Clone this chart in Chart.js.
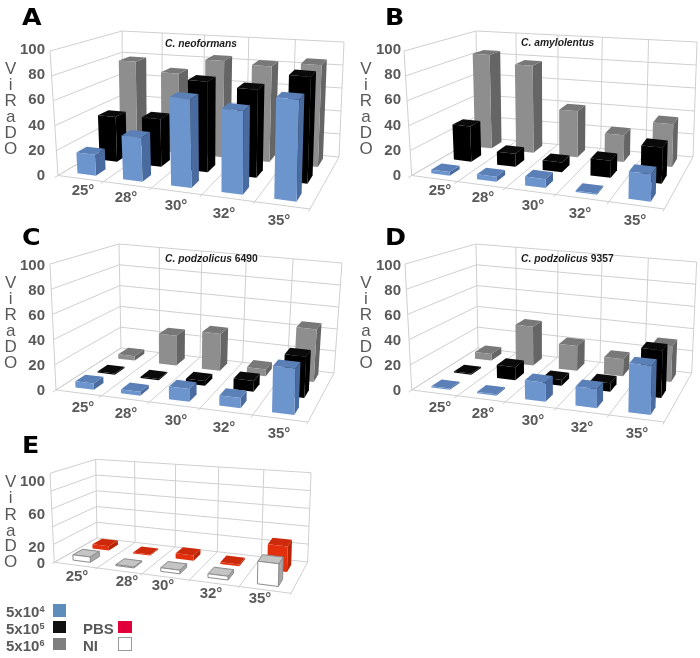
<!DOCTYPE html>
<html>
<head>
<meta charset="utf-8">
<script src="https://cdn.jsdelivr.net/npm/chart.js@4"></script>
<style>
html,body{margin:0;padding:0;background:#fff;}
#page{position:relative;width:700px;height:658px;overflow:hidden;font-family:"Liberation Sans",Arial,sans-serif;}
canvas{position:absolute;left:0;top:0;filter:blur(0.3px);}
.t{position:absolute;white-space:nowrap;line-height:1;}
.letter{font:bold 23px "DejaVu Sans",sans-serif;color:#000;transform:scaleX(1.1);transform-origin:left top;}
.title{font:bold italic 10.3px "Liberation Sans",sans-serif;color:#1c1c1c;}
.title b{font-style:normal;}
.lg{font:bold 15px "Liberation Sans",sans-serif;color:#595959;}
.lg sup{font-size:9px;line-height:0;vertical-align:5px;}
.sw{position:absolute;box-sizing:border-box;}
</style>
</head>
<body>
<div id="page"></div>
<script>
// ---- data (percent) ----
const categories = ['25°','28°','30°','32°','35°'];
const aBlue  = [17,35,70,65,78];
const aBlack = [38,40,75,72,86];
const aGrey  = [78,70,84,82,86];
const bBlue  = [3,4,7,1,21];
const bBlack = [30,11,8,14,29];
const bGrey  = [84,77,40,23,36];
const cBlue  = [5,3,10,8,36];
const cBlack = [1,1,4,9,34];
const cGrey  = [4,27,33,6,46];
const dBlue  = [1,1,15,15,38];
const dBlack = [1,11,5,7,39];
const dGrey  = [6,35,22,15,31];
const eNI    = [6,1,4,4,24];
const ePBS   = [5,1,6,2,28];
const yTicksFull = [0,20,40,60,80,100];
const yTicksE    = [0,20,60,100];
const gridValues = [0,20,40,60,80,100];

// ---- styles ----
const BLUE  = {front:'#6d95cd',top:'#5b80b8',side:'#4a6b9f'};
const BLACK = {front:'#000000',top:'#0a0a0a',side:'#000000'};
const GREY  = {front:'#8e8e8e',top:'#787878',side:'#656565'};
const RED   = {front:'#e2300e',top:'#cc2a0a',side:'#b82405'};
const NI    = {front:'#ffffff',top:'#c4c4c4',side:'#a8a8a8',edge:'#8c8c8c'};
const GRID  = '#cfcfcf';
const FONT  = '"Liberation Sans",Arial,sans-serif';
const INK   = '#595959';

// ---- panel frames: corners of the plot box on the page ----
const frames = {
  A:{fl0:[58,175.5],fr0:[310,209],bl0:[123,137],br0:[339,157],fl1:[50,51],fr1:[314,76],bl1:[122,31],br1:[344,42],
     zero:176,hundred:49.5,tickRight:45,
     labels:[[83,191],[126,197.5],[176,206],[224,213.5],[279,221]],
     letters:[10.7,[69,85,101,117,133,149]]},
  B:{fl0:[411.7,175.5],fr0:[664.3,209],bl0:[478,137],br0:[693,157],fl1:[404,51],fr1:[668,76],bl1:[476,31],br1:[697,42],
     zero:176,hundred:49.5,tickRight:401,
     labels:[[440,191],[483,197.5],[533,206],[580,213.5],[635,221]],
     letters:[366,[69,85,101,117,133,149]]},
  C:{fl0:[56,390],fr0:[308,422],bl0:[121,348],br0:[334,373],fl1:[50,264],fr1:[312,290],bl1:[119,244],br1:[342,263],
     zero:391,hundred:265.7,tickRight:45,
     labels:[[83,408],[126,413.5],[176,421],[224,427.5],[279,434]],
     letters:[10.7,[283,299.5,315.5,331.5,347,363]]},
  D:{fl0:[411.7,390],fr0:[664.3,422],bl0:[478,348],br0:[691.7,373],fl1:[405,264],fr1:[668,290],bl1:[476,244],br1:[696.7,262],
     zero:391,hundred:265.7,tickRight:401,
     labels:[[440,408],[483,413.5],[533,421],[582,427.5],[637,434]],
     letters:[366,[283,299.5,315.5,331.5,347,363]]},
  E:{fl0:[54.3,562.3],fr0:[291,593.3],bl0:[97,538],br0:[307.7,562],fl1:[50,473.3],fr1:[294,497],bl1:[95.7,459.3],br1:[311,472.7],
     zero:564,hundred:482,tickRight:45,
     labels:[[77,577],[127,582],[163,586],[211,593.5],[260,598.5]],
     letters:[10.7,[482,498.5,515,531,546,562]]}
};
const U_WARP = 0.12, BAR_U = 0.041;

function lerp(a,b,t){return [a[0]+(b[0]-a[0])*t,a[1]+(b[1]-a[1])*t];}
function project(f,u,v,w){
  const uu = u + U_WARP*u*(u-1);
  const b = lerp(lerp(f.fl0,f.fr0,uu),lerp(f.bl0,f.br0,uu),v);
  const t = lerp(lerp(f.fl1,f.fr1,uu),lerp(f.bl1,f.br1,uu),v);
  return lerp(b,t,w);
}
function poly(ctx,pts,fill,stroke){
  ctx.beginPath();
  pts.forEach((p,i)=> i?ctx.lineTo(p[0],p[1]):ctx.moveTo(p[0],p[1]));
  ctx.closePath();
  if(fill){ctx.fillStyle=fill;ctx.fill();}
  if(stroke){ctx.strokeStyle=stroke;ctx.lineWidth=1;ctx.stroke();}
}
function fracU(chart,i){const s=chart.scales.x;return (s.getPixelForValue(i)-s.left)/s.width;}
function fracW(chart,val){const s=chart.scales.y;return (s.bottom-s.getPixelForValue(val))/(s.bottom-s.top);}

// ---- bars with depth: a bar controller that reads the chart's own scales ----
class Box3DController extends Chart.BarController {
  draw(){
    const chart=this.chart, ctx=chart.ctx, ds=this.getDataset(), f=chart.options.plugins.frame.frame;
    const c=ds.faces, v0=ds.depth-ds.thick/2, v1=ds.depth+ds.thick/2;
    ctx.save();
    ds.data.forEach((val,i)=>{
      const u=fracU(chart,i), u0=u-BAR_U, u1=u+BAR_U, w=fracW(chart,val);
      const P=(a,b,h)=>project(f,a,b,h);
      poly(ctx,[P(u1,v0,0),P(u1,v1,0),P(u1,v1,w),P(u1,v0,w)],c.side,c.edge);
      poly(ctx,[P(u0,v0,w),P(u1,v0,w),P(u1,v1,w),P(u0,v1,w)],c.top,c.edge);
      poly(ctx,[P(u0,v0,0),P(u1,v0,0),P(u1,v0,w),P(u0,v0,w)],c.front,c.edge);
    });
    ctx.restore();
  }
}
Box3DController.id='box3d';
Box3DController.defaults=Chart.BarController.defaults;
Chart.register(Box3DController);

// ---- walls, floor, category labels, stacked axis title ----
const framePlugin={
  id:'frame',
  beforeDatasetsDraw(chart,args,opts){
    const ctx=chart.ctx,f=opts.frame;
    const line=(a,b)=>{ctx.beginPath();ctx.moveTo(a[0],a[1]);ctx.lineTo(b[0],b[1]);ctx.stroke();};
    ctx.save();ctx.strokeStyle=GRID;ctx.lineWidth=1;
    gridValues.forEach(val=>{
      const w=val/100;
      line(project(f,0,0,w),project(f,0,1,w));
      line(project(f,0,1,w),project(f,1,1,w));
    });
    line(project(f,0,0,0),project(f,0,0,1));
    for(let i=0;i<=categories.length;i++){
      const u=i/categories.length;
      line(project(f,u,1,0),project(f,u,1,1));
      line(project(f,u,-0.05,0),project(f,u,1,0));
    }
    line(project(f,0,0,0),project(f,1,0,0));
    ctx.restore();
    ctx.save();ctx.fillStyle=INK;ctx.textAlign='center';ctx.textBaseline='middle';
    ctx.font='bold 15px '+FONT;
    chart.data.labels.forEach((t,i)=>ctx.fillText(t,f.labels[i][0],f.labels[i][1]));
    ctx.font='17px '+FONT;
    opts.axisTitle.split('').forEach((ch,i)=>ctx.fillText(ch,f.letters[0],f.letters[1][i]));
    ctx.restore();
  }
};

function makeChart(name,sets,ticks){
  const f=frames[name];
  const cv=document.createElement('canvas');
  cv.width=700;cv.height=658;cv.style.width='700px';cv.style.height='658px';
  document.getElementById('page').appendChild(cv);
  sets.forEach(s=>{s.clip=false;});
  return new Chart(cv,{
    type:'box3d',
    data:{labels:categories,datasets:sets},
    plugins:[framePlugin],
    options:{
      responsive:false,animation:false,events:[],
      layout:{padding:{left:0,top:f.hundred,right:700-f.fr0[0],bottom:658-f.zero}},
      plugins:{legend:{display:false},tooltip:{enabled:false},title:{display:false},
        frame:{frame:f,axisTitle:'ViRaDO'}},
      scales:{
        x:{type:'category',display:false,offset:true},
        y:{type:'linear',min:0,max:100,position:'left',
           afterFit(s){s.width=f.fl0[0];},
           afterBuildTicks(s){s.ticks=ticks.map(v=>({value:v}));},
           grid:{display:false,drawTicks:false},border:{display:false},
           ticks:{autoSkip:false,padding:f.fl0[0]-f.tickRight,color:INK,font:{family:FONT,size:15,weight:'bold'}}}
      }
    }
  });
}
const tri=(blue,black,grey)=>[
  {label:'5x10^4',data:blue,faces:BLUE,depth:0.18,thick:0.16},
  {label:'5x10^5',data:black,faces:BLACK,depth:0.53,thick:0.16},
  {label:'5x10^6',data:grey,faces:GREY,depth:0.86,thick:0.16}
];
makeChart('A',tri(aBlue,aBlack,aGrey),yTicksFull);
makeChart('B',tri(bBlue,bBlack,bGrey),yTicksFull);
makeChart('C',tri(cBlue,cBlack,cGrey),yTicksFull);
makeChart('D',tri(dBlue,dBlack,dGrey),yTicksFull);
makeChart('E',[
  {label:'NI',data:eNI,faces:NI,depth:0.27,thick:0.23},
  {label:'PBS',data:ePBS,faces:RED,depth:0.74,thick:0.23}
],yTicksE);

// ---- panel letters, species titles, legend ----
const page=document.getElementById('page');
function text(cls,html,x,y){const d=document.createElement('div');d.className='t '+cls;d.innerHTML=html;d.style.left=x+'px';d.style.top=y+'px';page.appendChild(d);}
function swatch(x,y,w,h,bg,bd){const d=document.createElement('div');d.className='sw';d.style.cssText+=`left:${x}px;top:${y}px;width:${w}px;height:${h}px;background:${bg};${bd?'border:1px solid '+bd+';':''}`;page.appendChild(d);}
[['A',22,4],['B',385,4],['C',22,224],['D',385,224],['E',22,432]].forEach(l=>text('letter',l[0],l[1],l[2]));
text('title','C. neoformans',165,38);
text('title','C. amylolentus',521,37);
text('title','C. podzolicus <b>6490</b>',165,253);
text('title','C. podzolicus <b>9357</b>',521,253);
text('lg','5x10<sup>4</sup>',6,603);
text('lg','5x10<sup>5</sup>',6,620);
text('lg','5x10<sup>6</sup>',6,637);
text('lg','PBS',83,620);
text('lg','NI',83,637);
swatch(53,604,13,13,'#5f8dbb');
swatch(53,621,13,12,'#111111');
swatch(53,638,13,12,'#7f7f7f');
swatch(118,621,14,12,'#e2003b');
swatch(118,637,14,14,'#ffffff','#9a9a9a');
</script>
</body>
</html>
